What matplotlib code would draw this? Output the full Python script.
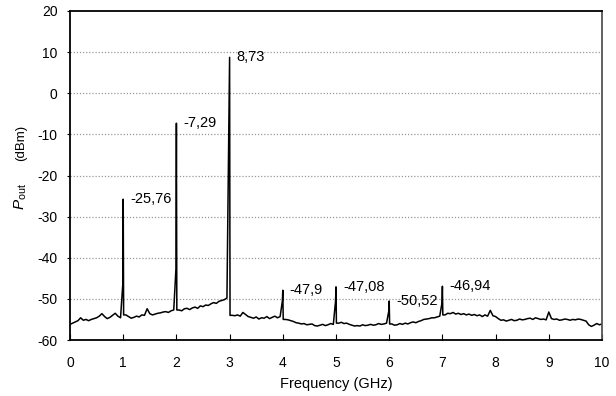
import numpy as np
import matplotlib
matplotlib.use('Agg')
import matplotlib.pyplot as plt

plt.rcParams['font.family'] = ['Liberation Sans', 'DejaVu Sans']
plt.rcParams['mathtext.fontset'] = 'custom'
plt.rcParams['mathtext.rm'] = 'Liberation Sans'
plt.rcParams['mathtext.it'] = 'Liberation Sans:italic'
plt.rcParams['axes.unicode_minus'] = False

# noise floor, one value every 0.05 GHz from 0 to 10 GHz
floor_freq = np.arange(201) * 0.05
floor_power = [
    -56.2, -55.9, -55.6, -55.3, -54.6, -55.2, -55.0, -55.3, -55.0, -54.8,
    -54.6, -54.2, -53.6, -54.3, -54.8, -54.5, -54.0, -53.5, -54.2, -54.6,
    -54.0, -53.9, -54.3, -54.7, -54.5, -54.2, -54.4, -53.9, -54.0, -52.4,
    -53.6, -53.9, -53.7, -53.5, -53.4, -53.2, -53.1, -53.3, -52.9, -52.7,
    -52.8, -52.7, -52.9, -52.4, -52.3, -52.6, -52.2, -52.0, -52.3, -51.7,
    -51.9, -51.5, -51.6, -51.2, -50.9, -51.1, -50.6, -50.4, -50.2, -49.8,
    -53.9, -54.0, -54.1, -53.9, -54.2, -53.3, -53.8, -54.3, -54.5, -54.7,
    -54.4, -54.9, -54.6, -54.7, -54.3, -54.8, -54.5, -54.2, -54.6, -54.3,
    -54.8, -55.0, -55.1, -55.3, -55.5, -55.8, -55.9, -56.1, -56.0, -56.3,
    -56.2, -56.1, -56.5, -56.6, -56.4, -56.2, -56.5, -56.3, -56.0, -56.2,
    -55.8, -55.9, -55.7, -56.0, -55.9, -56.2, -56.4, -56.6, -56.5, -56.6,
    -56.3, -56.5, -56.4, -56.2, -56.4, -56.3, -56.0, -56.2, -56.1, -55.9,
    -55.9, -56.1, -56.4, -56.3, -56.0, -56.2, -55.9, -56.1, -55.8, -55.6,
    -55.8, -55.5, -55.3, -55.0, -54.9, -54.8, -54.6, -54.6, -54.4, -54.2,
    -53.8, -53.9, -53.5, -53.6, -53.3, -53.7, -53.5, -53.8, -53.6, -53.9,
    -53.7, -54.0, -53.8, -54.1, -53.9, -54.3, -53.9, -54.2, -52.8, -54.1,
    -54.3, -54.8, -55.2, -55.1, -55.4, -55.2, -55.0, -55.3, -55.2, -54.9,
    -55.1, -55.0, -54.8, -54.7, -55.0, -54.6, -54.8, -55.0, -54.9, -55.1,
    -53.2, -54.8, -55.0, -54.9, -55.2, -55.1, -54.9, -55.0, -55.2, -55.0,
    -55.1, -54.9, -55.0, -55.2, -55.4, -56.3, -56.7, -56.4, -56.0, -56.3,
    -56.1,
]

# harmonics
peak_freq = [1, 2, 3, 4, 5, 6, 7]
peak_power = [-25.76, -7.29, 8.73, -47.9, -47.08, -50.52, -46.94]
peak_shoulder = [-46.5, -42.6, -2.0, -50.5, -50.5, -53.0, -51.0]
peak_labels = ['-25,76', '-7,29', '8,73', '-47,9', '-47,08', '-50,52', '-46,94']

# merge floor and peaks into one trace
floor_power = np.array(floor_power)
keep = ~np.isin(np.round(floor_freq, 2), peak_freq)
xs = list(floor_freq[keep])
ys = list(floor_power[keep])
for f, p, s in zip(peak_freq, peak_power, peak_shoulder):
    after = floor_power[int(round(f / 0.05)) + 1]
    xs += [f - 0.008, f, f + 0.008]
    ys += [s, p, after]
order = np.argsort(xs, kind='stable')
xs = np.array(xs)[order]
ys = np.array(ys)[order]

W, H = 616, 396
fig = plt.figure(figsize=(W / 100, H / 100), dpi=100)
ax = fig.add_axes([70 / W, 1 - 340 / H, 532 / W, 329 / H])

ax.plot(xs, ys, color='black', linewidth=1.1)

for f, p, lab in zip(peak_freq, peak_power, peak_labels):
    ax.annotate(lab, (f, p), xytext=(5, 0), textcoords='offset points',
                va='center', ha='left', fontsize=10.5)

ax.set_xlim(0, 10)
ax.set_ylim(-60, 20)
ax.set_xticks(range(0, 11))
ax.set_yticks(range(-60, 21, 10))
for y in range(-50, 20, 10):
    ax.axhline(y, color='#999999', linestyle=(0, (1, 1.5)), linewidth=0.9, zorder=0)

ax.tick_params(axis='x', direction='in', length=4, pad=11.5, labelsize=10)
ax.tick_params(axis='y', direction='out', length=2.5, pad=6.5, labelsize=10)
for side in ['left', 'bottom', 'top']:
    ax.spines[side].set_linewidth(1.3)
ax.spines['right'].set_color('#555555')
ax.spines['right'].set_linewidth(1.3)

ax.set_xlabel('Frequency (GHz)', fontsize=10.5, labelpad=5)

# y label: big italic P with small subscript, then (dBm)
fig.text(21 / W, 1 - 197 / H, r'$P_{\rm out}$', rotation=90, fontsize=11,
         ha='center', va='center')
fig.text(21 / W, 1 - 143 / H, '(dBm)', rotation=90, fontsize=9.5,
         ha='center', va='center')

fig.savefig('out.png', dpi=100)
